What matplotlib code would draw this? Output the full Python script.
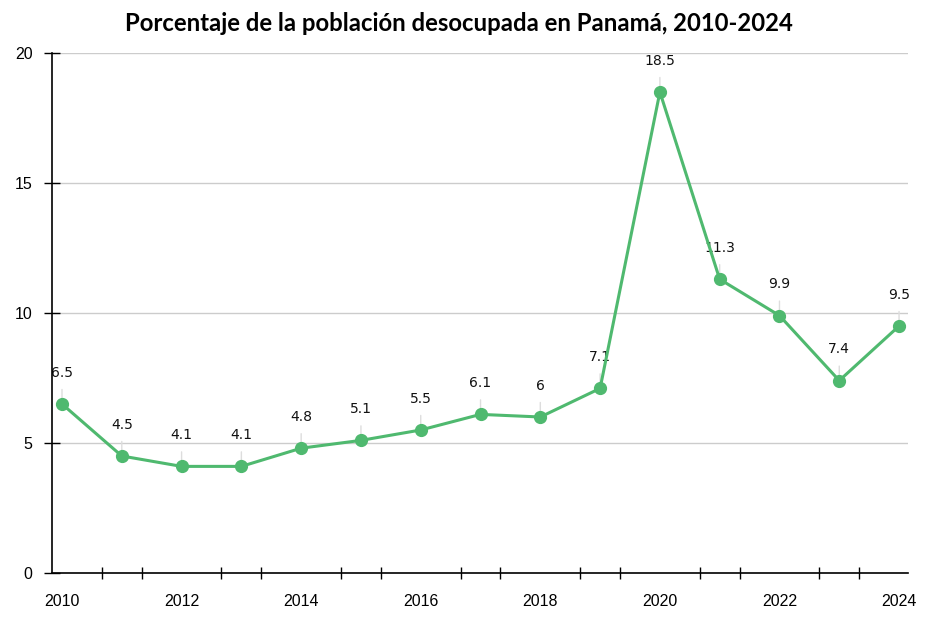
import numpy as np
import matplotlib
matplotlib.use("Agg")
import matplotlib.pyplot as plt

# datos
anios = list(range(2010, 2025))
desocupados = [6.5, 4.5, 4.1, 4.1, 4.8, 5.1, 5.5, 6.1, 6, 7.1, 18.5, 11.3, 9.9, 7.4, 9.5]
etiquetas = ["6.5", "4.5", "4.1", "4.1", "4.8", "5.1", "5.5", "6.1", "6", "7.1",
             "18.5", "11.3", "9.9", "7.4", "9.5"]
anios_eje = [2010, 2012, 2014, 2016, 2018, 2020, 2022, 2024]
valores_y = [0, 5, 10, 15, 20]

verde = "#4fb96f"

fig = plt.figure(figsize=(9.39, 6.26), dpi=100)
ax = fig.add_axes([0.0554, 0.0847, 0.9116, 0.8306])

ax.plot(anios, desocupados, color=verde, lw=2.2, marker="o", ms=8.5, zorder=3,
        clip_on=False)

for x, y, t in zip(anios, desocupados, etiquetas):
    ax.annotate(t, (x, y), xytext=(0, 22.5), textcoords="offset points",
                ha="center", va="center", fontsize=10, family="DejaVu Sans",
                color="#111111",
                arrowprops=dict(arrowstyle="-", color="#dddddd", lw=1,
                                shrinkA=5, shrinkB=0), zorder=2)

ax.set_xlim(2009.833, 2024.15)
ax.set_ylim(0, 20)

ax.set_yticks(valores_y)
ax.set_yticklabels([str(v) for v in valores_y], family="Liberation Sans", fontsize=11.5)
ax.yaxis.grid(True, color="#cccccc", lw=1)
ax.set_axisbelow(True)

ax.set_xticks(anios_eje)
ax.set_xticklabels([str(a) for a in anios_eje], family="Liberation Sans", fontsize=11.5)
ax.tick_params(axis="x", which="major", length=0, pad=15)
menores = [2010 + k * 2 / 3 for k in range(1, 21) if k % 3 != 0]
ax.set_xticks(menores, minor=True)
ax.tick_params(axis="x", which="minor", direction="inout", length=8, width=1, color="black")
ax.tick_params(axis="y", direction="inout", length=12, width=1, pad=8)

for s in ["top", "right"]:
    ax.spines[s].set_visible(False)
ax.spines["left"].set_linewidth(1.2)
ax.spines["bottom"].set_linewidth(1.2)

fig.text(0.4885, 0.963, "Porcentaje de la población desocupada en Panamá, 2010-2024",
         ha="center", va="center", fontsize=17.2, fontweight="bold", family="Lato")

fig.savefig("out.png", dpi=100)
